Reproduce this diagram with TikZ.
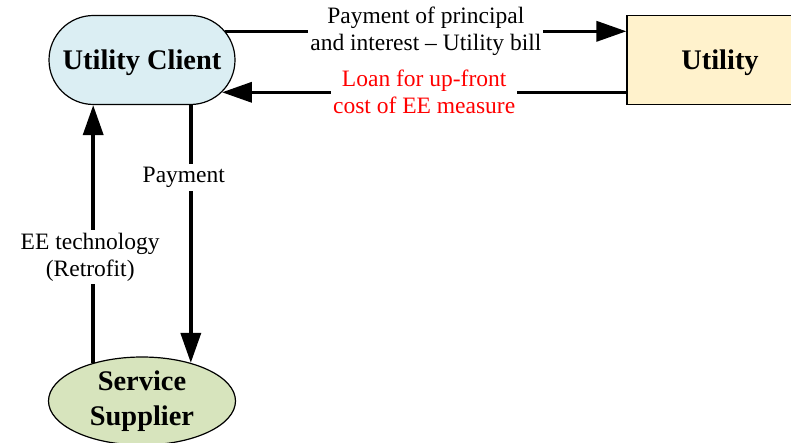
\documentclass[tikz,border=0pt]{standalone}
\usepackage{fontspec}
\setmainfont{Liberation Serif}
\usetikzlibrary{shapes.misc,shapes.geometric,arrows.meta}

\definecolor{clientblue}{HTML}{DBEEF3}
\definecolor{utilyellow}{HTML}{FFF2CC}
\definecolor{suppgreen}{HTML}{D7E4BD}

\tikzset{
	party/.style = {draw, line width=0.6pt, minimum width=93pt, minimum height=44.5pt, inner sep=0pt,
		align=center, font=\fontsize{14.2}{17.5}\selectfont\bfseries},
	flow/.style = {line width=1.8pt, -{Triangle[length=15pt,width=10pt]}},
	lbl/.style = {fill=white, inner xsep=1pt, inner ysep=1.5pt, align=center, font=\fontsize{11.75}{13.5}\selectfont}
}

\begin{document}
\begin{tikzpicture} [x = 0.5pt, y = -0.5pt]
	\useasboundingbox (0,0) rectangle (791,443);
	\clip (0,0) rectangle (791,443);
	\node [party, rounded rectangle, fill = clientblue, text depth = 0pt] (client) at (142,60) {Utility Client};
	\node [party, rectangle, fill = utilyellow, text depth = 0pt] (utility) at (720,60) {Utility};
	\node [party, ellipse, fill = suppgreen, minimum width = 93.5pt, minimum height = 44pt] (supplier) at (142,401) {Service\\Supplier};
	% client <-> utility
	\draw [flow] (client.19) -- (client.19 -| utility.west)
		node [lbl, midway] {Payment of principal\\and interest -- Utility bill};
	\draw [flow] (client.-22 -| utility.west) -- (client.-22)
		node [lbl, midway, text = red] {Loan for up-front\\cost of EE measure};
	% client <-> supplier
	\draw [flow] (supplier.142) -- (supplier.142 |- client.south)
		node [lbl, pos = 0.41, xshift = -1.5pt] {EE technology\\(Retrofit)};
	\draw [flow] (supplier.38 |- client.south) -- (supplier.38)
		node [lbl, pos = 0.28, xshift = -3.5pt] {Payment};
	%\draw [help lines, step = 50] (0,0) grid (791,443);
\end{tikzpicture}
\end{document}
